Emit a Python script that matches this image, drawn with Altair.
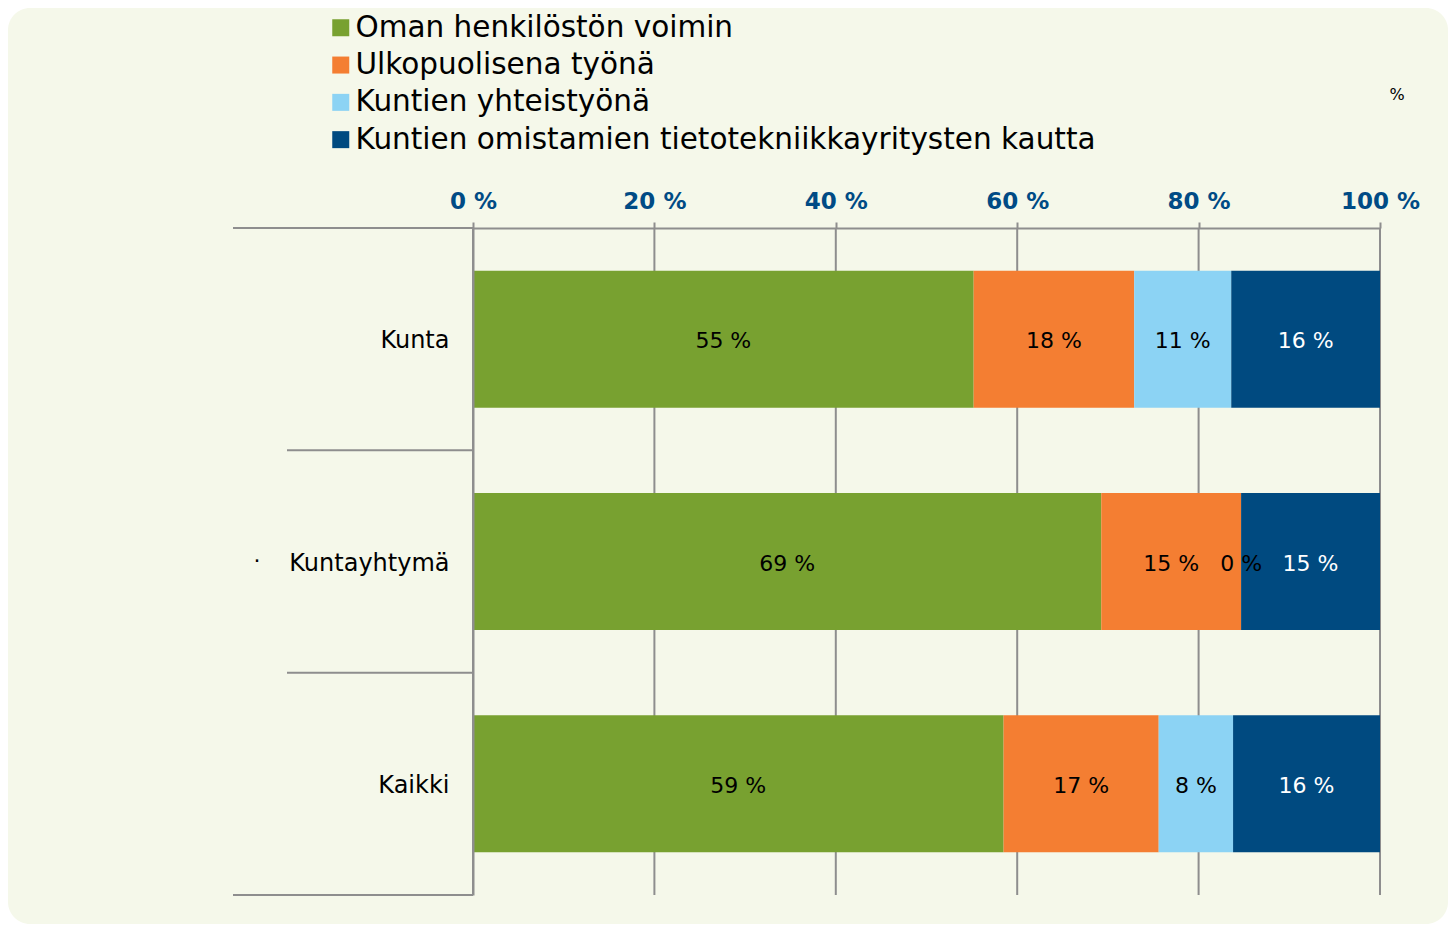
import altair as alt
import pandas as pd

categories = ["Kunta", "Kuntayhtymä", "Kaikki"]
series = [
    "Oman henkilöstön voimin",
    "Ulkopuolisena työnä",
    "Kuntien yhteistyönä",
    "Kuntien omistamien tietotekniikkayritysten kautta",
]
colors = ["#78A130", "#F47E32", "#8CD3F4", "#004A80"]
values_kunta = [55.2, 17.7, 10.7, 16.4]
values_kuntayhtyma = [69.2, 15.4, 0.0, 15.3]
values_kaikki = [58.5, 17.1, 8.2, 16.2]
labels_kunta = ["55 %", "18 %", "11 %", "16 %"]
labels_kuntayhtyma = ["69 %", "15 %", "0 %", "15 %"]
labels_kaikki = ["59 %", "17 %", "8 %", "16 %"]
x_ticks = [0, 0.2, 0.4, 0.6, 0.8, 1.0]

rows = []
for cat, vals, labs in zip(
    categories,
    [values_kunta, values_kuntayhtyma, values_kaikki],
    [labels_kunta, labels_kuntayhtyma, labels_kaikki],
):
    for i, (s, v, l) in enumerate(zip(series, vals, labs)):
        rows.append({"cat": cat, "series": s, "order": i, "value": v, "label": l})
df = pd.DataFrame(rows)

W, H = 907, 667
FONT = "DejaVu Sans"
GREY = "#8E8E8E"

base = alt.Chart(df).transform_stack(
    stack="value",
    groupby=["cat"],
    as_=["v0", "v1"],
    offset="normalize",
    sort=[alt.SortField("order", order="ascending")],
).transform_calculate(mid="(datum.v0 + datum.v1) / 2")

x_scale = alt.Scale(domain=[0, 1], nice=False)

y_enc = alt.Y(
    "cat:N",
    sort=categories,
    title=None,
    scale=alt.Scale(paddingInner=0.384, paddingOuter=0.192),
    axis=alt.Axis(
        ticks=False,
        domain=True,
        domainColor=GREY,
        domainWidth=2,
        labelFont=FONT,
        labelFontSize=24,
        labelColor="#000000",
        labelPadding=24,
        labelOffset=2,
        grid=False,
        zindex=1,
    ),
)

bars = base.mark_bar().encode(
    x=alt.X(
        "v0:Q",
        title=None,
        scale=x_scale,
        axis=alt.Axis(
            orient="top",
            values=x_ticks,
            labelExpr="format(datum.value * 100, 'd') + ' %'",
            labelFont=FONT,
            labelFontSize=23,
            labelFontWeight="bold",
            labelColor="#004B85",
            labelPadding=9,
            labelFlush=False,
            tickSize=6,
            tickColor=GREY,
            tickWidth=2,
            domainColor=GREY,
            domainWidth=2,
            grid=False,
            zindex=1,
        ),
    ),
    x2="v1:Q",
    y=y_enc,
    color=alt.Color(
        "series:N",
        sort=series,
        scale=alt.Scale(domain=series, range=colors),
        legend=alt.Legend(
            title=None,
            orient="none",
            legendX=-147,
            legendY=-215,
            padding=0,
            symbolType="square",
            symbolSize=289,
            symbolStrokeWidth=0,
            labelFont=FONT,
            labelFontSize=29.5,
            labelColor="#000000",
            labelOffset=0,
            rowPadding=6.3,
            labelLimit=1000,
        ),
    ),
    order=alt.Order("order:Q"),
)

texts = base.mark_text(font=FONT, fontSize=22, baseline="middle", align="center", dy=2).encode(
    x=alt.X("mid:Q", scale=x_scale),
    y=alt.Y("cat:N", sort=categories),
    text="label:N",
    color=alt.condition(
        alt.datum.order == 3, alt.value("#FFFFFF"), alt.value("#000000")
    ),
)

one = alt.Data(values=[{"a": 1}])

bg = alt.Chart(one).mark_rect(color="#F5F8EA", cornerRadius=22).encode(
    x=alt.value(-465), x2=alt.value(975), y=alt.value(-220), y2=alt.value(696)
)

grid = alt.Chart(pd.DataFrame({"t": x_ticks})).mark_rule(color=GREY, strokeWidth=2).encode(
    x=alt.X("t:Q", scale=x_scale)
)

def rule(x1, x2, y):
    return alt.Chart(one).mark_rule(color=GREY, strokeWidth=2).encode(
        x=alt.value(x1), x2=alt.value(x2), y=alt.value(y)
    )

rules = [
    rule(-240, 0, 0),
    rule(-186, 0, H / 3),
    rule(-186, 0, 2 * H / 3),
    rule(-240, 0, H),
]

pct = alt.Chart(one).mark_text(font=FONT, fontSize=16, color="#000000").encode(
    x=alt.value(924), y=alt.value(-133), text=alt.value("%")
)
dot = alt.Chart(one).mark_text(font=FONT, fontSize=22, color="#000000").encode(
    x=alt.value(-216), y=alt.value(333), text=alt.value("·")
)

chart = alt.layer(bg, grid, bars, texts, *rules, pct, dot).properties(
    width=W,
    height=H,
    background="#FFFFFF",
    padding={"left": 465, "top": 220, "right": 68, "bottom": 29},
    autosize=alt.AutoSizeParams(type="none"),
).configure_view(stroke=None)

chart.save("out.html", embed_options={"renderer": "svg", "actions": False})
